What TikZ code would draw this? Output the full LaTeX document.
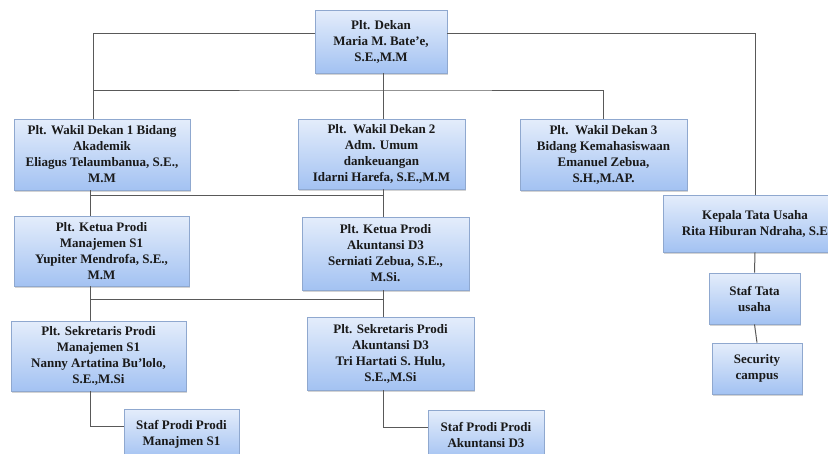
\documentclass[tikz,border=0pt]{standalone}
\usepackage{fontspec}
\setmainfont{Liberation Serif}
\usetikzlibrary{calc,shadows}
\definecolor{biruatas}{HTML}{E4EDFB}
\definecolor{birubawah}{HTML}{A3C2F2}
\definecolor{tepi}{HTML}{8FA8CF}
\tikzset{
  kotak/.style={draw=tepi,line width=0.8pt,top color=biruatas,bottom color=birubawah,
    align=center,inner sep=0pt,text=black!90,
    drop shadow={shadow xshift=1pt,shadow yshift=-1.5pt,opacity=0.35}},
  hubung/.style={draw=black!65,line width=1pt}
}

\begin{document}
\begin{tikzpicture}[x=1pt,y=-1pt,font=\bfseries\fontsize{13}{16}\selectfont]
  \useasboundingbox (0,0) rectangle (828,453);
  \clip (0,0) rectangle (828,453);

  % garis tegak
  \coordinate (sumbuA) at (93,0);
  \coordinate (sumbuB) at (90,0);
  \coordinate (sumbuC) at (383,0);
  \coordinate (bagi) at (383,90);
  \coordinate (simpul1) at (383,195);
  \coordinate (simpul2) at (383,299);

  % pimpinan
  \node[kotak,minimum width=132,minimum height=63] (dekan) at (381,41.5)
    {Plt. Dekan\\Maria M. Bate'e,\\S.E.,M.M};

  \node[kotak,minimum width=176,minimum height=71] (wakil1) at (102,154.5)
    {Plt. Wakil Dekan 1 Bidang\\Akademik\\Eliagus Telaumbanua, S.E.,\\M.M};
  \node[kotak,minimum width=167,minimum height=70] (wakil2) at (381.5,154)
    {Plt.\ \ Wakil Dekan 2\\Adm. Umum\\dankeuangan\\Idarni Harefa, S.E.,M.M};
  \node[kotak,minimum width=167,minimum height=71] (wakil3) at (603.5,154.5)
    {Plt.\ \ Wakil Dekan 3\\Bidang Kemahasiswaan\\Emanuel Zebua,\\S.H.,M.AP.};

  % prodi
  \node[kotak,minimum width=175,minimum height=70] (ketua1) at (101.5,251)
    {Plt. Ketua Prodi\\Manajemen S1\\Yupiter Mendrofa, S.E.,\\M.M};
  \node[kotak,minimum width=167,minimum height=73] (ketua2) at (385.5,253.5)
    {Plt. Ketua Prodi\\Akuntansi D3\\Serniati Zebua, S.E.,\\M.Si.};
  \node[kotak,minimum width=175,minimum height=70] (sek1) at (98.5,356)
    {Plt. Sekretaris Prodi\\Manajemen S1\\Nanny Artatina Bu'lolo,\\S.E.,M.Si};
  \node[kotak,minimum width=167,minimum height=73] (sek2) at (390.5,353.5)
    {Plt. Sekretaris Prodi\\Akuntansi D3\\Tri Hartati S. Hulu,\\S.E.,M.Si};
  \node[kotak,minimum width=115,minimum height=50] (staf1) at (181.5,434)
    {Staf Prodi Prodi\\Manajmen S1};
  \node[kotak,minimum width=116,minimum height=50] (staf2) at (486,435)
    {Staf Prodi Prodi\\Akuntansi D3};

  % tata usaha
  \node[kotak,minimum width=184,minimum height=57] (kepala) at (755,223.5)
    {Kepala Tata Usaha\\Rita Hiburan Ndraha, S.E};
  \node[kotak,minimum width=91,minimum height=51] (stafTU) at (754.5,298.5)
    {Staf Tata\\usaha};
  \node[kotak,minimum width=90,minimum height=51] (satpam) at (757,368.5)
    {Security\\campus};

  % garis penghubung
  \draw[hubung] ([yshift=8pt]dekan.west) -| (wakil1.north -| sumbuA);
  \draw[hubung] (dekan.south -| sumbuC) -- (wakil2.north -| sumbuC);
  \draw[hubung] (sumbuA |- bagi) -- (bagi) -| (wakil3.north);
  \draw[hubung] ([yshift=8pt]dekan.east) -| (kepala.north);
  \draw[hubung] (wakil1.south -| sumbuB) -- (ketua1.north -| sumbuB);
  \draw[hubung] (wakil2.south -| sumbuC) -- (ketua2.north -| sumbuC);
  \draw[hubung] (sumbuB |- simpul1) -- (simpul1);
  \draw[hubung] (ketua1.south -| sumbuB) -- (sek1.north -| sumbuB);
  \draw[hubung] (ketua2.south -| sumbuC) -- (sek2.north -| sumbuC);
  \draw[hubung] (sumbuB |- simpul2) -- (simpul2);
  \draw[hubung] (sek1.south -| sumbuB) |- ([yshift=8pt]staf1.west);
  \draw[hubung] (sek2.south -| sumbuC) |- ([yshift=8pt]staf2.west);
  \draw[hubung] (kepala.south) -- (stafTU.north);
  \draw[hubung] (stafTU.south) -- (satpam.north);
\end{tikzpicture}
\end{document}
